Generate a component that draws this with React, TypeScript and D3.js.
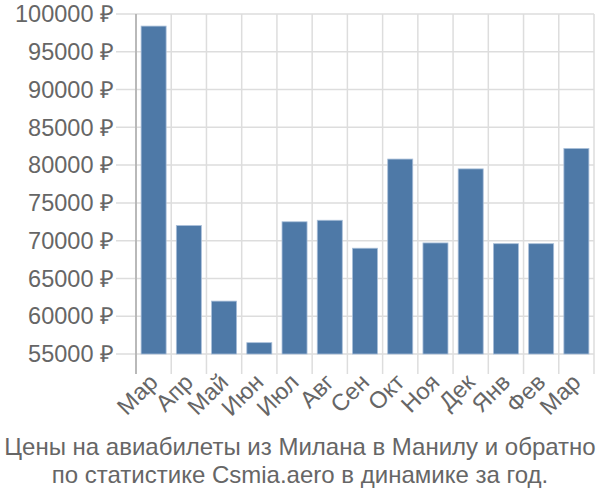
import React from "react";
import * as d3 from "d3";

const months = ["Мар", "Апр", "Май", "Июн", "Июл", "Авг", "Сен", "Окт", "Ноя", "Дек", "Янв", "Фев", "Мар"];
const prices = [98400, 72000, 62000, 56500, 72500, 72700, 69000, 80800, 69700, 79500, 69600, 69600, 82200];
const yTicks = [55000, 60000, 65000, 70000, 75000, 80000, 85000, 90000, 95000, 100000];
const titleLines = [
  "Цены на авиабилеты из Милана в Манилу и обратно",
  "по статистике Csmia.aero в динамике за год.",
];

const W = 600;
const H = 500;
const left = 136;
const right = 594;
const top = 14;
const bottom = 354;

export default function App() {
  const idx = months.map((_, i) => String(i));
  const x = d3.scaleBand<string>().domain(idx).range([left, right]).paddingInner(0.29).paddingOuter(0.145);
  const xStep = d3.scaleBand<string>().domain(idx).range([left, right]);
  const y = d3.scaleLinear().domain([55000, 100000]).range([bottom, top]);
  const font = "'Liberation Sans', Arial, sans-serif";

  return (
    <svg width={W} height={H} style={{ position: "absolute", left: 0, top: 0 }}>
      <rect width={W} height={H} fill="#fff" />
      {yTicks.map((t) => (
        <line key={"h" + t} x1={116} x2={right} y1={y(t)} y2={y(t)} stroke="#dddddd" strokeWidth={1.5} />
      ))}
      {idx.map((d) => (
        <line key={"v" + d} x1={xStep(d)!} x2={xStep(d)!} y1={top} y2={bottom + 20} stroke="#dddddd" strokeWidth={1.5} />
      ))}
      <line x1={right} x2={right} y1={top} y2={bottom + 20} stroke="#dddddd" strokeWidth={1.5} />
      <line x1={left} x2={left} y1={top} y2={bottom + 20} stroke="#aaaaaa" strokeWidth={1.5} />
      {prices.map((v, i) => (
        <rect
          key={"b" + i}
          x={x(String(i))!}
          y={y(v)}
          width={x.bandwidth()}
          height={bottom - y(v)}
          fill="#4e79a7"
          stroke="#a9bfd9"
          strokeWidth={0.8}
        />
      ))}
      {yTicks.map((t) => (
        <text
          key={"yl" + t}
          x={114}
          y={y(t)}
          dy="0.35em"
          textAnchor="end"
          fontFamily={font}
          fontSize={23.5}
          fill="#666666"
        >
          {t} ₽
        </text>
      ))}
      {months.map((m, i) => {
        const cx = x(String(i))! + x.bandwidth() / 2 - 6;
        const cy = bottom + 18;
        return (
          <text
            key={"xl" + i}
            transform={`translate(${cx},${cy}) rotate(-45)`}
            textAnchor="end"
            dy="0.7em"
            fontFamily={font}
            fontSize={23.5}
            fill="#666666"
          >
            {m}
          </text>
        );
      })}
      {titleLines.map((l, i) => (
        <text
          key={"t" + i}
          x={W / 2}
          y={455 + i * 28}
          textAnchor="middle"
          fontFamily={font}
          fontSize={24}
          fill="#666666"
        >
          {l}
        </text>
      ))}
    </svg>
  );
}
